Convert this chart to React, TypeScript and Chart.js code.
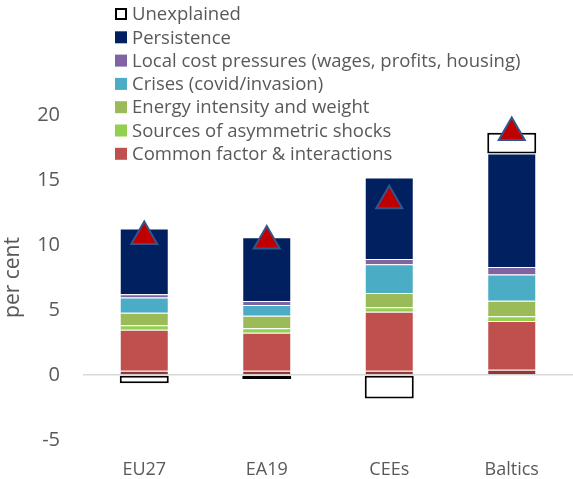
import React, { useEffect, useRef } from 'react';
import { Chart, registerables } from 'chart.js';

Chart.register(...registerables);

const categories = ['EU27', 'EA19', 'CEEs', 'Baltics'];
const interactionsBase = [0.33, 0.33, 0.33, 0.4];
const commonFactor = [3.15, 2.92, 4.54, 3.75];
const asymmetricShocks = [0.35, 0.34, 0.34, 0.36];
const energyIntensity = [0.95, 0.97, 1.1, 1.2];
const crises = [1.18, 0.82, 2.21, 2.03];
const localCost = [0.25, 0.31, 0.4, 0.56];
const persistence = [5.05, 4.9, 6.28, 8.74];
const unexplained = [-0.64, -0.3, -1.8, 1.6];
const totalInflation = [10.65, 10.3, 13.4, 18.65];
const yTicks = [-5, 0, 5, 10, 15, 20];

const FONT = '"Open Sans", "DejaVu Sans", sans-serif';
const TEXT = '#595959';

const legendItems = [
  { label: 'Unexplained', fill: '#FFFFFF', border: '#000000' },
  { label: 'Persistence', fill: '#002060' },
  { label: 'Local cost pressures (wages, profits, housing)', fill: '#8064A2' },
  { label: 'Crises (covid/invasion)', fill: '#4BACC6' },
  { label: 'Energy intensity and weight', fill: '#9BBB59' },
  { label: 'Sources of asymmetric shocks', fill: '#92D050' },
  { label: 'Common factor & interactions', fill: '#C0504D' },
];

const legendPlugin = {
  id: 'customLegend',
  afterDraw(chart: any) {
    const ctx = chart.ctx;
    ctx.save();
    ctx.font = `18.5px ${FONT}`;
    ctx.textBaseline = 'middle';
    ctx.textAlign = 'left';
    legendItems.forEach((it, i) => {
      const cy = 14 + i * 23.3;
      if (it.border) {
        ctx.fillStyle = it.fill;
        ctx.fillRect(116, cy - 5, 10, 10);
        ctx.strokeStyle = it.border;
        ctx.lineWidth = 2;
        ctx.strokeRect(116, cy - 5, 10, 10);
      } else {
        ctx.fillStyle = it.fill;
        ctx.fillRect(115, cy - 6, 12, 12);
      }
      ctx.fillStyle = TEXT;
      ctx.fillText(it.label, 132, cy + 1);
    });
    ctx.restore();
  },
};

export default function App() {
  const ref = useRef<HTMLCanvasElement>(null);
  useEffect(() => {
    const segBorder = 'rgba(255,255,255,0.45)';
    const bar = (label: string, data: number[], color: string) => ({
      type: 'bar' as const,
      label,
      data,
      backgroundColor: color,
      borderColor: segBorder,
      borderWidth: 1,
      stack: 'a',
      order: 1,
      categoryPercentage: 1,
      barPercentage: 0.4,
    });
    const chart = new Chart(ref.current!, {
      type: 'bar',
      data: {
        labels: categories,
        datasets: [
          {
            type: 'line' as const,
            label: 'Total',
            data: totalInflation,
            showLine: false,
            pointStyle: 'triangle',
            pointRadius: 15,
            pointBackgroundColor: '#C00000',
            pointBorderColor: '#34558A',
            pointBorderWidth: 2,
            stack: 'tri',
            order: 0,
            clip: false,
          } as any,
          bar('Interactions', interactionsBase, '#943634'),
          bar('Common factor & interactions', commonFactor, '#C0504D'),
          bar('Sources of asymmetric shocks', asymmetricShocks, '#92D050'),
          bar('Energy intensity and weight', energyIntensity, '#9BBB59'),
          bar('Crises (covid/invasion)', crises, '#4BACC6'),
          bar('Local cost pressures (wages, profits, housing)', localCost, '#8064A2'),
          bar('Persistence', persistence, '#002060'),
          {
            ...bar('Unexplained', unexplained, '#FFFFFF'),
            borderColor: '#000000',
            borderWidth: 2,
            borderSkipped: false,
          },
        ],
      },
      options: {
        animation: false,
        responsive: true,
        maintainAspectRatio: false,
        layout: { autoPadding: false, padding: { top: 115, right: 0, left: 0, bottom: 0 } },
        plugins: { legend: { display: false }, tooltip: { enabled: false } },
        scales: {
          x: {
            stacked: true,
            grid: { display: false },
            border: { display: false },
            ticks: { color: TEXT, font: { family: FONT, size: 18 }, padding: 11 },
            afterFit: (s: any) => { s.height = 39; s.paddingLeft = 0; s.paddingRight = 0; },
          },
          y: {
            stacked: true,
            min: -5,
            max: 20,
            afterBuildTicks: (s: any) => { s.ticks = yTicks.map((v) => ({ value: v })); },
            grid: {
              drawTicks: false,
              color: (c: any) => (c.tick && c.tick.value === 0 ? '#D9D9D9' : 'rgba(0,0,0,0)'),
              lineWidth: 1.5,
            },
            border: { display: false },
            ticks: { color: TEXT, font: { family: FONT, size: 20 }, padding: 23 },
            title: { display: true, text: 'per cent', color: TEXT, font: { family: FONT, size: 21 }, padding: 0 },
            afterFit: (s: any) => { s.width = 83; },
          },
        },
      },
      plugins: [legendPlugin],
    });
    return () => chart.destroy();
  }, []);
  return (
    <div style={{ position: 'fixed', left: 0, top: 0, width: 573, height: 479, overflow: 'hidden', background: '#fff' }}>
      <canvas ref={ref} style={{ display: 'block' }} />
    </div>
  );
}
